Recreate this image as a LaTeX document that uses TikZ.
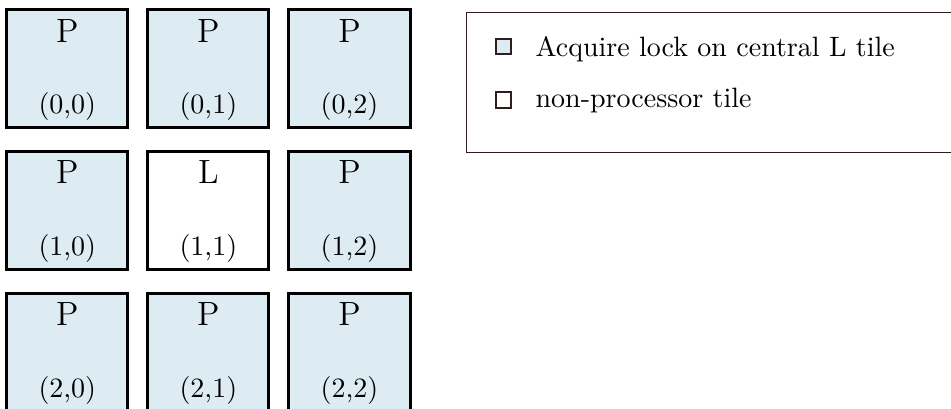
\documentclass[tikz,border=0pt]{standalone}
\usepackage{xcolor}
\usetikzlibrary{positioning}
\definecolor{ink}{HTML}{000000}
\definecolor{tilebg}{HTML}{DDEBF3}
\definecolor{frame}{HTML}{2E1E1E}

\begin{document}
\begin{tikzpicture}[
  x=1mm,y=1mm,
  tile/.style={draw=ink,line width=1.07pt,inner sep=0pt,
               minimum width=15.2mm,minimum height=14.8mm},
  letter/.style={font=\large,text=ink,inner sep=0pt,anchor=base},
  coord/.style={font=\normalsize,text=ink,inner sep=0pt,anchor=base},
  key/.style={draw=frame,line width=.7pt,inner sep=0pt,minimum size=1.9mm},
  entry/.style={font=\normalsize,text=ink,inner sep=0pt,anchor=base west}
]
\useasboundingbox (0,0) rectangle (119.34,51.32);
\clip (0,0) rectangle (119.34,51.32);

% 3x3 tile grid, row r / column c
\foreach \r/\c/\k/\f in {0/0/P/tilebg,0/1/P/tilebg,0/2/P/tilebg,
                         1/0/P/tilebg,1/1/L/white,1/2/P/tilebg,
                         2/0/P/tilebg,2/1/P/tilebg,2/2/P/tilebg} {
  \node[tile,fill=\f] (t\r\c) at (8.45+17.7*\c,42.75-17.8*\r) {};
  \node[letter] (k\r\c) at ([yshift=-4.3mm]t\r\c.north) {\k};
  \node[coord] (n\r\c) at ([yshift=-13.3mm]t\r\c.north) {(\r,\c)};
}

% legend
\node[draw=frame,line width=.36pt,anchor=north west,inner sep=0pt,
      minimum width=66mm,minimum height=17.56mm] (legend) at (58.48,49.81) {};
\node[key,fill=tilebg] (keyp) at (63.2,45.48) {};
\node[key,fill=white] (keyl) at (63.2,38.77) {};
\node[entry] (keyptext) at (67.14,44.17) {Acquire lock on central L tile};
\node[entry] (keyltext) at (67.14,37.77) {non-processor tile};

\end{tikzpicture}
\end{document}
